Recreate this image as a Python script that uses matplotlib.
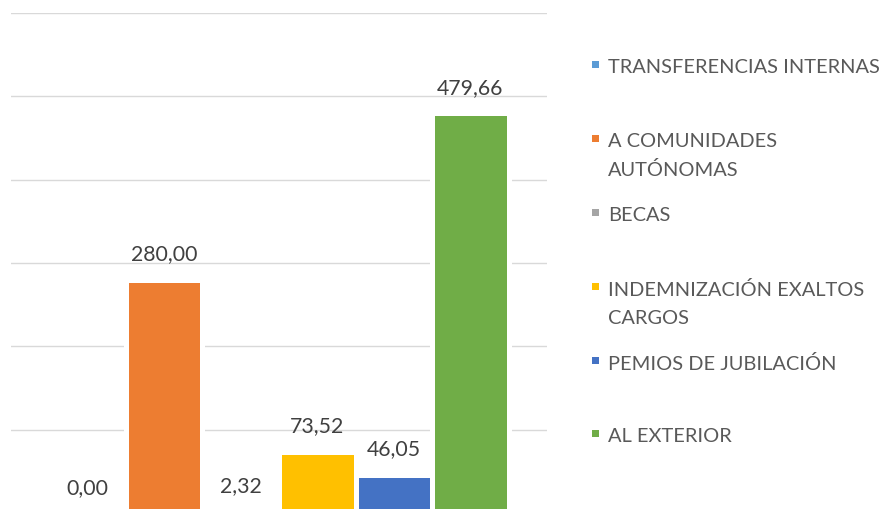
import matplotlib.pyplot as plt
from matplotlib.patches import Rectangle

# Data
categories = ["TRANSFERENCIAS INTERNAS", "A COMUNIDADES\nAUTÓNOMAS", "BECAS",
              "INDEMNIZACIÓN EXALTOS\nCARGOS", "PEMIOS DE JUBILACIÓN", "AL EXTERIOR"]
values = [0.00, 280.00, 2.32, 73.52, 46.05, 479.66]
colors = ["#5B9BD5", "#ED7D31", "#A5A5A5", "#FFC000", "#4472C4", "#70AD47"]
grid_ticks = [0, 100, 200, 300, 400, 500, 600]

plt.rcParams['font.family'] = ['Lato', 'DejaVu Sans']

W, H = 887, 510
fig = plt.figure(figsize=(W / 100, H / 100), dpi=100)
# plot area: x 11..547 px, y 14..514 px (baseline sits just below the image)
ax = fig.add_axes([11 / W, (H - 514) / H, 536 / W, 500 / H])

x = list(range(len(values)))
ax.bar(x, values, width=1.0, color=colors, edgecolor="white", linewidth=3.6, zorder=2)

for xi, v in zip(x, values):
    ax.annotate(f"{v:.2f}".replace(".", ","), (xi, v), xytext=(0, 19),
                textcoords="offset points", ha="center", va="center",
                fontsize=15.3, color="#404040", zorder=3)

ax.set_xlim(-1, 6)
ax.set_ylim(0, 600)
ax.set_yticks(grid_ticks)
ax.grid(axis="y", color="#D9D9D9", linewidth=1.0, zorder=0)
ax.tick_params(left=False, bottom=False, labelleft=False, labelbottom=False)
for s in ax.spines.values():
    s.set_visible(False)

# legend drawn by hand so two-line entries keep the marker on the first line
entry_y = [65, 139, 213, 287, 361, 434]
for name, col, ey in zip(categories, colors, entry_y):
    fig.patches.append(Rectangle((592 / W, 1 - (ey + 3.5) / H), 7 / W, 7 / H,
                                 transform=fig.transFigure, facecolor=col,
                                 edgecolor="none"))
    fig.text(608 / W, 1 - (ey - 6) / H, name, ha="left", va="top",
             fontsize=14.4, color="#595959", linespacing=1.75)

fig.savefig("out.png", dpi=100)
